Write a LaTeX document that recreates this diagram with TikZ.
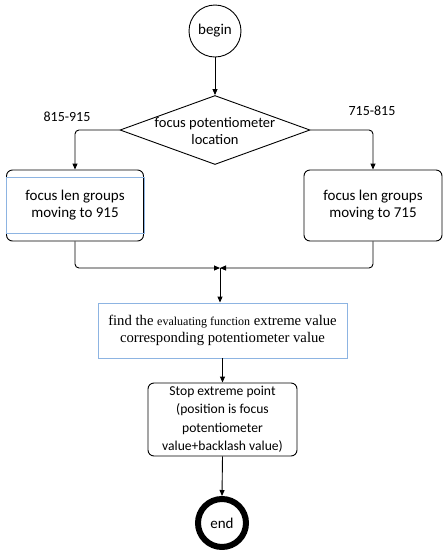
\documentclass[tikz,border=0pt]{standalone}
\usepackage{fontspec}
\setmainfont{Carlito}
\newfontfamily\timesfont{Liberation Serif}
\usetikzlibrary{shapes.geometric,arrows.meta}

\definecolor{boxblue}{RGB}{141,180,226}

\tikzset{
    flow/.style={line width=0.9pt, -{Triangle[length=6pt,width=5pt]}},
    terminal/.style={circle, draw, line width=0.9pt, minimum size=52pt, inner sep=0pt},
    process/.style={rectangle, rounded corners=6pt, draw, line width=0.9pt, align=center},
}

\begin{document}
\begin{tikzpicture}[x=1pt, y=-1pt, font=\fontsize{15}{17}\selectfont]

    \useasboundingbox (0,0) rectangle (448,550);

    %----- START -----
    \node[terminal] (begin) at (215,31) {begin};

    %----- DECISION -----
    \node[diamond, draw, line width=0.9pt, minimum width=190pt, minimum height=69pt,
          inner sep=0pt] (loc) at (215,130) {};
    \node[align=center, inner sep=0pt, font=\fontsize{14.5}{17}\selectfont] (loctext) at (215,131)
        {focus potentiometer\\location};
    \draw[flow] (begin) -- (loc.north);

    %----- BRANCH BOXES -----
    \node[process, minimum width=137pt, minimum height=71pt] (left) at (75,205.5)
        {focus len groups\\moving to 915};
    \node[process, minimum width=138pt, minimum height=71pt] (right) at (373,205.5)
        {focus len groups\\moving to 715};

    % blue inner frame of the left box
    \draw[boxblue, line width=0.9pt] ([yshift=-8pt]left.north west) rectangle ([yshift=8pt]left.south east);

    \draw[flow, rounded corners=4pt] (loc.west) -| (left.north);
    \draw[flow, rounded corners=4pt] (loc.east) -| (right.north);

    \node[font=\fontsize{14}{17}\selectfont] (lowrange) at (67,117) {815-915};
    \node[font=\fontsize{14}{17}\selectfont] (highrange) at (372,111) {715-815};

    %----- MERGE -----
    \coordinate (join) at (220,268);
    \draw[flow, rounded corners=4pt] (left.south) |- (join);
    \draw[flow, rounded corners=4pt] (right.south) |- (join);

    %----- EXTREME VALUE -----
    \node[rectangle, draw=boxblue, line width=0.9pt, minimum width=249pt, minimum height=55pt,
          align=center, font=\timesfont\fontsize{14.7}{17}\selectfont] (find) at (222.5,330.5)
        {find the {\fontsize{12}{17}\selectfont evaluating function} extreme value\\corresponding potentiometer value};
    \draw[flow] (join) -- (join |- find.north);

    %----- STOP POINT -----
    \node[process, minimum width=149pt, minimum height=73pt, inner sep=1pt,
          font=\fontsize{13.6}{18.5}\selectfont] (stop) at (222.5,419.5)
        {Stop extreme point\\(position is focus\\potentiometer\\value+backlash value)};
    \draw[flow] (find.south -| stop.north) -- (stop.north);

    %----- END -----
    \node[circle, draw, line width=6pt, minimum size=48pt, inner sep=0pt] (end) at (222,523) {end};
    \draw[flow] (stop.south) -- (end.north);

\end{tikzpicture}
\end{document}
